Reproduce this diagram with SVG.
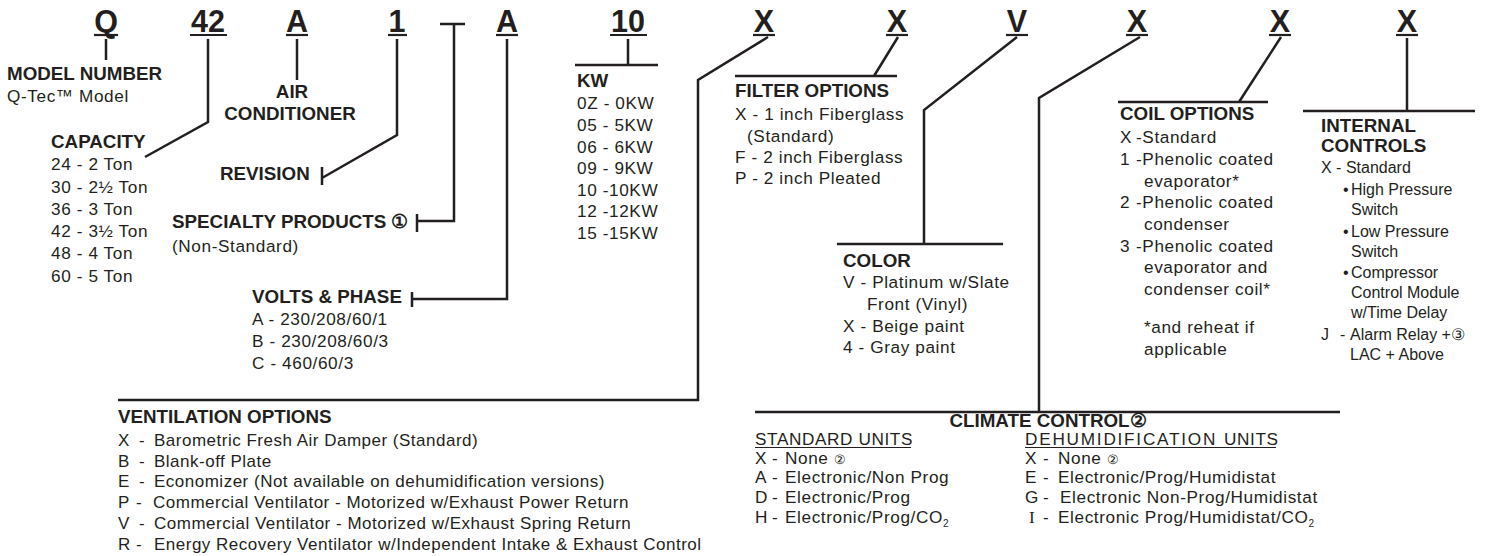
<svg xmlns="http://www.w3.org/2000/svg" width="1495" height="556" viewBox="0 0 1495 556">
<style>
text{font-family:"Liberation Sans",Arial,sans-serif;fill:#231f20}
.c{font-size:30.5px;font-weight:bold;text-anchor:middle}
.h{font-size:18.8px;font-weight:bold}
.t{font-size:17.2px;letter-spacing:0.6px}
.v{font-size:17px;letter-spacing:0.5px}
.i{font-size:16px}
.u{stroke:#231f20;stroke-width:2.2}
.ln{fill:none;stroke:#231f20;stroke-width:2.5;stroke-linejoin:miter}
.thin{stroke:#231f20;stroke-width:1.2}
.sub{font-size:10px;letter-spacing:0}
</style>
<rect width="1495" height="556" fill="#fff"/>

<g id="codes">
<text class="c" x="106" y="32">Q</text><line class="u" x1="94" y1="35" x2="118" y2="35"/>
<text class="c" x="208" y="32">42</text><line class="u" x1="190" y1="35" x2="227" y2="35"/>
<text class="c" x="297" y="32">A</text><line class="u" x1="286" y1="35" x2="308" y2="35"/>
<text class="c" x="397" y="32">1</text><line class="u" x1="388" y1="35" x2="407" y2="35"/>
<text class="c" x="507" y="32">A</text><line class="u" x1="496" y1="35" x2="518" y2="35"/>
<text class="c" x="628" y="32">10</text><line class="u" x1="610" y1="35" x2="647" y2="35"/>
<text class="c" x="764" y="32">X</text><line class="u" x1="753" y1="35" x2="775" y2="35"/>
<text class="c" x="897" y="32">X</text><line class="u" x1="886" y1="35" x2="908" y2="35"/>
<text class="c" x="1017" y="32">V</text><line class="u" x1="1006" y1="35" x2="1028" y2="35"/>
<text class="c" x="1137" y="32">X</text><line class="u" x1="1126" y1="35" x2="1148" y2="35"/>
<text class="c" x="1280" y="32">X</text><line class="u" x1="1269" y1="35" x2="1291" y2="35"/>
<text class="c" x="1407" y="32">X</text><line class="u" x1="1396" y1="35" x2="1418" y2="35"/>
</g>

<g id="connectors">
<path class="ln" d="M106 39V60"/>
<path class="ln" d="M208 39V122L145 157"/>
<path class="ln" d="M297 39V80"/>
<path class="ln" d="M397 39V135L322 178M322 167V185"/>
<path class="ln" d="M440 24H465M454 24V221H417M417 214V232"/>
<path class="ln" d="M507 39V299H412M412 292V307"/>
<path class="ln" d="M628 39V65M575 65H658"/>
<path class="ln" d="M768 37L698 80V400H118"/>
<path class="ln" d="M898 37L874 76M735 76H897"/>
<path class="ln" d="M1017 37L924 110V244M837 244H1003"/>
<path class="ln" d="M1140 37L1039 98V412M755 412H1340"/>
<path class="ln" d="M1281 37L1239 102M1118 102H1268"/>
<path class="ln" d="M1407 38V111M1303 111H1475"/>
</g>

<g id="model-number">
<text class="h" x="7" y="80">MODEL NUMBER</text>
<text class="t" x="7" y="102">Q-Tec™ Model</text>
</g>

<g id="capacity">
<text class="h" x="51" y="148">CAPACITY</text>
<text class="t" x="51" y="170">24 - 2 Ton</text>
<text class="t" x="51" y="193">30 - 2½ Ton</text>
<text class="t" x="51" y="215">36 - 3 Ton</text>
<text class="t" x="51" y="237">42 - 3½ Ton</text>
<text class="t" x="51" y="259">48 - 4 Ton</text>
<text class="t" x="51" y="282">60 - 5 Ton</text>
</g>

<g id="air-conditioner">
<text class="h" x="292" y="98" text-anchor="middle">AIR</text>
<text class="h" x="290" y="120" text-anchor="middle">CONDITIONER</text>
</g>

<g id="revision">
<text class="h" x="220" y="180">REVISION</text>
</g>

<g id="specialty">
<text class="h" x="172" y="228">SPECIALTY PRODUCTS ①</text>
<text class="t" x="172" y="252">(Non-Standard)</text>
</g>

<g id="volts">
<text class="h" x="252" y="303">VOLTS &amp; PHASE</text>
<text class="t" x="252" y="325">A - 230/208/60/1</text>
<text class="t" x="252" y="347">B - 230/208/60/3</text>
<text class="t" x="252" y="369">C - 460/60/3</text>
</g>

<g id="kw">
<text class="h" x="577" y="87">KW</text>
<text class="t" x="577" y="109">0Z - 0KW</text>
<text class="t" x="577" y="131">05 - 5KW</text>
<text class="t" x="577" y="153">06 - 6KW</text>
<text class="t" x="577" y="174">09 - 9KW</text>
<text class="t" x="577" y="196">10 -10KW</text>
<text class="t" x="577" y="217">12 -12KW</text>
<text class="t" x="577" y="239">15 -15KW</text>
</g>

<g id="filter">
<text class="h" x="735" y="97">FILTER OPTIONS</text>
<text class="t" x="735" y="120">X - 1 inch Fiberglass</text>
<text class="t" x="747" y="142">(Standard)</text>
<text class="t" x="735" y="163">F - 2 inch Fiberglass</text>
<text class="t" x="735" y="184">P - 2 inch Pleated</text>
</g>

<g id="color">
<text class="h" x="843" y="267">COLOR</text>
<text class="t" x="843" y="288">V - Platinum w/Slate</text>
<text class="t" x="867" y="310">Front (Vinyl)</text>
<text class="t" x="843" y="332">X - Beige paint</text>
<text class="t" x="843" y="353">4 - Gray paint</text>
</g>

<g id="coil">
<text class="h" x="1120" y="120">COIL OPTIONS</text>
<text class="t" y="143"><tspan x="1120">X</tspan><tspan x="1136">-Standard</tspan></text>
<text class="t" y="165"><tspan x="1120">1</tspan><tspan x="1136">-Phenolic coated</tspan></text>
<text class="t" x="1144" y="187">evaporator*</text>
<text class="t" y="208"><tspan x="1120">2</tspan><tspan x="1136">-Phenolic coated</tspan></text>
<text class="t" x="1144" y="230">condenser</text>
<text class="t" y="252"><tspan x="1120">3</tspan><tspan x="1136">-Phenolic coated</tspan></text>
<text class="t" x="1144" y="273">evaporator and</text>
<text class="t" x="1144" y="295">condenser coil*</text>
<text class="t" x="1144" y="333">*and reheat if</text>
<text class="t" x="1144" y="355">applicable</text>
</g>

<g id="internal">
<text class="h" x="1321" y="132">INTERNAL</text>
<text class="h" x="1321" y="152">CONTROLS</text>
<text class="i" x="1321" y="173">X - Standard</text>
<text class="i" y="195"><tspan x="1343">•</tspan><tspan x="1351">High Pressure</tspan></text>
<text class="i" x="1351" y="215">Switch</text>
<text class="i" y="237"><tspan x="1343">•</tspan><tspan x="1351">Low Pressure</tspan></text>
<text class="i" x="1351" y="257">Switch</text>
<text class="i" y="278"><tspan x="1343">•</tspan><tspan x="1351">Compressor</tspan></text>
<text class="i" x="1351" y="298">Control Module</text>
<text class="i" x="1351" y="318">w/Time Delay</text>
<text class="i" y="340"><tspan x="1321">J</tspan><tspan x="1340">-</tspan><tspan x="1350">Alarm Relay +③</tspan></text>
<text class="i" x="1350" y="360">LAC + Above</text>
</g>

<g id="ventilation">
<text class="h" x="118" y="423">VENTILATION OPTIONS</text>
<text class="v" y="446"><tspan x="118">X</tspan><tspan x="139">-</tspan><tspan x="154">Barometric Fresh Air Damper (Standard)</tspan></text>
<text class="v" y="467"><tspan x="118">B</tspan><tspan x="139">-</tspan><tspan x="154">Blank-off Plate</tspan></text>
<text class="v" y="487"><tspan x="118">E</tspan><tspan x="139">-</tspan><tspan x="154">Economizer (Not available on dehumidification versions)</tspan></text>
<text class="v" y="508"><tspan x="118">P</tspan><tspan x="136">-</tspan><tspan x="153">Commercial Ventilator - Motorized w/Exhaust Power Return</tspan></text>
<text class="v" y="529"><tspan x="118">V</tspan><tspan x="139">-</tspan><tspan x="154">Commercial Ventilator - Motorized w/Exhaust Spring Return</tspan></text>
<text class="v" y="550"><tspan x="118">R</tspan><tspan x="136">-</tspan><tspan x="154">Energy Recovery Ventilator w/Independent Intake &amp; Exhaust Control</tspan></text>
</g>

<g id="climate">
<text class="h" x="1048" y="427" text-anchor="middle">CLIMATE CONTROL②</text>
<text class="t" x="755" y="445">STANDARD UNITS</text>
<line class="thin" x1="755" y1="447.5" x2="911" y2="447.5"/>
<text class="t" y="464"><tspan x="755">X</tspan><tspan x="772">-</tspan><tspan x="785">None <tspan font-size="13">②</tspan></tspan></text>
<text class="t" y="483"><tspan x="755">A</tspan><tspan x="772">-</tspan><tspan x="785">Electronic/Non Prog</tspan></text>
<text class="t" y="503"><tspan x="755">D</tspan><tspan x="772">-</tspan><tspan x="785">Electronic/Prog</tspan></text>
<text class="t" y="523"><tspan x="755">H</tspan><tspan x="772">-</tspan><tspan x="785">Electronic/Prog/CO</tspan><tspan class="sub" dy="4">2</tspan></text>
<text class="t" x="1025" y="445" textLength="191" lengthAdjust="spacing">DEHUMIDIFICATION</text>
<text class="t" x="1224" y="445">UNITS</text>
<line class="thin" x1="1025" y1="447.5" x2="1276" y2="447.5"/>
<text class="t" y="464"><tspan x="1025">X</tspan><tspan x="1043">-</tspan><tspan x="1058">None <tspan font-size="13">②</tspan></tspan></text>
<text class="t" y="483"><tspan x="1025">E</tspan><tspan x="1043">-</tspan><tspan x="1058">Electronic/Prog/Humidistat</tspan></text>
<text class="t" y="503"><tspan x="1025">G</tspan><tspan x="1043">-</tspan><tspan x="1060">Electronic Non-Prog/Humidistat</tspan></text>
<text class="t" y="523"><tspan x="1029" font-family="Liberation Serif, serif">I</tspan><tspan x="1043">-</tspan><tspan x="1058">Electronic Prog/Humidistat/CO</tspan><tspan class="sub" dy="4">2</tspan></text>
</g>
</svg>
